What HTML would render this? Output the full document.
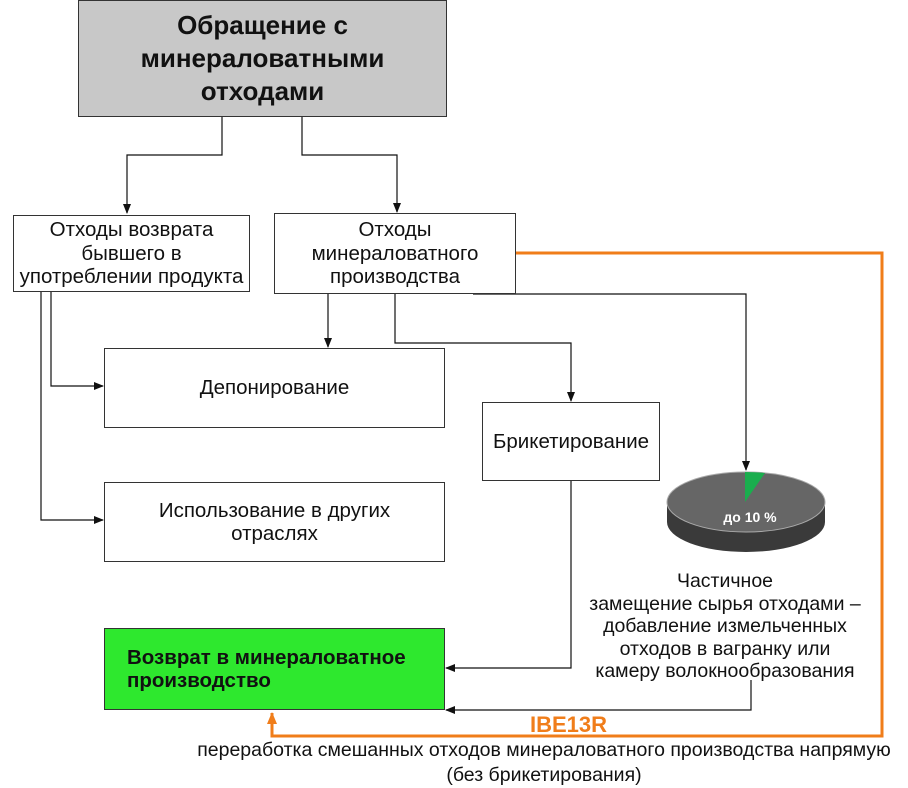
<!DOCTYPE html>
<html><head><meta charset="utf-8"><style>
body{margin:0;width:908px;height:786px;background:#fff;position:relative;overflow:hidden;font-family:"Liberation Sans","DejaVu Sans",sans-serif;}
.b{position:absolute;box-sizing:border-box;border:1px solid #333;display:flex;align-items:center;justify-content:center;text-align:center;font-size:20.5px;line-height:23.5px;color:#111;white-space:nowrap;}
.t{position:absolute;text-align:center;font-size:19.5px;line-height:22.5px;color:#111;white-space:nowrap;}
</style></head><body>
<svg width="908" height="786" style="position:absolute;left:0;top:0">
<defs><marker id="a" markerWidth="10" markerHeight="8" refX="9" refY="4" orient="auto" markerUnits="userSpaceOnUse"><path d="M0,0 L10,4 L0,8z" fill="#111"/></marker>
<marker id="o" markerWidth="12" markerHeight="10" refX="11" refY="5" orient="auto" markerUnits="userSpaceOnUse"><path d="M0,0 L12,5 L0,10z" fill="#f07d1a"/></marker></defs>
<g stroke="#111" stroke-width="1.2" fill="none">
<polyline points="222,117 222,155 127,155 127,213" marker-end="url(#a)"/>
<polyline points="302,117 302,155 397,155 397,212" marker-end="url(#a)"/>
<polyline points="51,292 51,386 103,386" marker-end="url(#a)"/>
<polyline points="41,292 41,520 103,520" marker-end="url(#a)"/>
<polyline points="328,294 328,347" marker-end="url(#a)"/>
<polyline points="395,294 395,343 571,343 571,401" marker-end="url(#a)"/>
<polyline points="473,294 746,294 746,470" marker-end="url(#a)"/>
<polyline points="571,481 571,668 446,668" marker-end="url(#a)"/>
<polyline points="751,680 751,710 446,710" marker-end="url(#a)"/>
</g>
<polyline points="516,253 882,253 882,736 272,736 272,713" stroke="#f07d1a" stroke-width="3" fill="none" marker-end="url(#o)"/>
<path d="M667,502 L667,522 A79,30 0 0 0 825,522 L825,502z" fill="#3a3a3a"/>
<ellipse cx="746" cy="502" rx="79" ry="30" fill="#666" stroke="#aaa" stroke-width="1"/>
<path d="M745,502 L745,472 A79,30 0 0 1 765,473z" fill="#1aae4e"/>
<text x="750" y="522" font-size="14" font-weight="bold" fill="#fff" text-anchor="middle" font-family="Liberation Sans">до 10 %</text>
</svg>
<div class="b" style="left:78px;top:0;width:369px;height:117px;background:#c8c8c8;font-size:26px;line-height:33px;font-weight:bold;">Обращение с<br>минераловатными<br>отходами</div>
<div class="b" style="left:13px;top:215px;width:237px;height:77px;background:#fff">Отходы возврата<br>бывшего в<br>употреблении продукта</div>
<div class="b" style="left:274px;top:213px;width:242px;height:81px;background:#fff">Отходы<br>минераловатного<br>производства</div>
<div class="b" style="left:104px;top:348px;width:341px;height:80px;">Депонирование</div>
<div class="b" style="left:482px;top:402px;width:178px;height:79px;">Брикетирование</div>
<div class="b" style="left:104px;top:482px;width:341px;height:80px;">Использование в других<br>отраслях</div>
<div class="b" style="left:104px;top:628px;width:341px;height:82px;background:#2ee82e;font-weight:bold;justify-content:flex-start;text-align:left;padding-left:22px;line-height:23px">Возврат в минераловатное<br>производство</div>
<div class="t" style="left:525px;top:570px;width:400px;">Частичное<br>замещение сырья отходами –<br>добавление измельченных<br>отходов в вагранку или<br>камеру волокнообразования</div>
<div class="t" style="left:530px;top:714px;font-size:22px;font-weight:bold;color:#f07d1a;">IBE13R</div>
<div class="t" style="left:144px;top:738px;width:800px;font-size:19.5px;line-height:25px">переработка смешанных отходов минераловатного производства напрямую<br>(без брикетирования)</div>
</body></html>
